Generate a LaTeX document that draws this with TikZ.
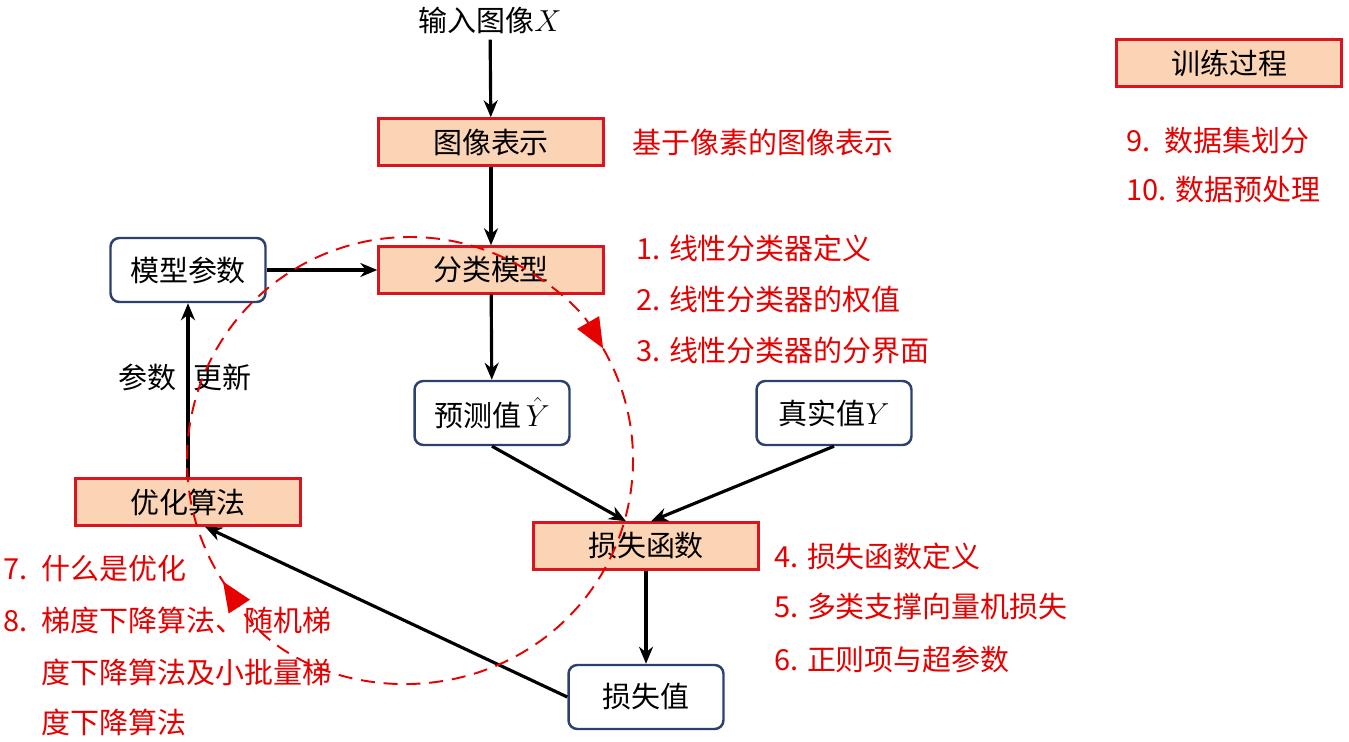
\documentclass[tikz,border=0pt]{standalone}
\usepackage{fontspec}
\setmainfont{Noto Sans CJK SC}
\usetikzlibrary{arrows.meta,positioning}
\definecolor{boxred}{RGB}{220,20,30}
\definecolor{peach}{RGB}{251,212,182}
\definecolor{navy}{RGB}{45,65,110}
\definecolor{notered}{RGB}{230,0,0}

\begin{document}
\begin{tikzpicture}[
    x=0.02cm,y=0.02cm,>={Stealth[length=3.4mm,width=2.8mm]},
    every node/.style={font=\fontsize{16.5}{19}\selectfont},
    stage/.style={rectangle,draw=boxred,fill=peach,line width=1.4pt,
        minimum width=4.5cm,minimum height=0.94cm},
    value/.style={rectangle,rounded corners=5pt,draw=navy,fill=white,line width=1.4pt,
        minimum width=3.1cm,minimum height=1.28cm},
    note/.style={text=notered,anchor=west},
    flow/.style={->,line width=1.8pt}
]
 \useasboundingbox (0,0) rectangle (1349,741);

 \node (img) at (490,721) {输入图像$X$};
 \node[stage] (repr) at (491,599) {图像表示};
 \node[stage] (model) at (491,471) {分类模型};
 \node[value] (param) at (188,471) {模型参数};
 \node[value] (pred) at (492,328) {预测值\,$\hat{Y}$};
 \node[value] (truth) at (834,328) {真实值$Y$};
 \node[stage] (loss) at (646,195) {损失函数};
 \node[value] (lossv) at (646,44) {损失值};
 \node[stage] (optim) at (188,239) {优化算法};
 \node[stage] (train) at (1229,678) {训练过程};
 \node (upd) at (185,364) {参数\hspace{0.6em}更新};

 % notes
 \node[note] (n0) at (626,599) {基于像素的图像表示};
 \node[note] (n1) at (630,493) {1. 线性分类器定义};
 \node[note] (n2) at (630,441) {2. 线性分类器的权值};
 \node[note] (n3) at (630,390) {3. 线性分类器的分界面};
 \node[note] (n4) at (768,185) {4. 损失函数定义};
 \node[note] (n5) at (768,134) {5. 多类支撑向量机损失};
 \node[note] (n6) at (768,82) {6. 正则项与超参数};
 \node[note] (n7) at (-3,173) {7.\enspace 什么是优化};
 \node[note] (n8) at (-3,121) {8.\enspace 梯度下降算法、随机梯};
 \node[note] (n8b) at (35,69) {度下降算法及小批量梯};
 \node[note] (n8c) at (35,19) {度下降算法};
 \node[note] (n9) at (1120,601) {9.\enspace 数据集划分};
 \node[note] (n10) at (1120,551) {10. 数据预处理};

 % connectors
 \draw[flow] (img) -- (repr);
 \draw[flow] (repr) -- (model);
 \draw[flow] (param) -- (model);
 \draw[flow] (model) -- (pred);
 \draw[flow] (pred.south) -- ([xshift=-0.4cm]loss.north);
 \draw[flow] (truth.south) -- ([xshift=0.1cm]loss.north);
 \draw[flow] (loss) -- (lossv);
 \draw[flow] (lossv.west) -- ([xshift=0.34cm]optim.south);
 \draw[flow] (optim) -- (param);

 % training loop
 \coordinate (cc) at (410,281);
 \draw[notered,line width=1.1pt,dash pattern=on 8pt off 5pt,
    -{Triangle[length=6mm,width=5mm]}] ([shift={(215:223)}]cc) arc[start angle=215,end angle=30,radius=223];
 \draw[notered,line width=1.1pt,dash pattern=on 8pt off 5pt,
    -{Triangle[length=6mm,width=5mm]}] ([shift={(30:223)}]cc) arc[start angle=30,end angle=-147,radius=223];
\end{tikzpicture}
\end{document}
